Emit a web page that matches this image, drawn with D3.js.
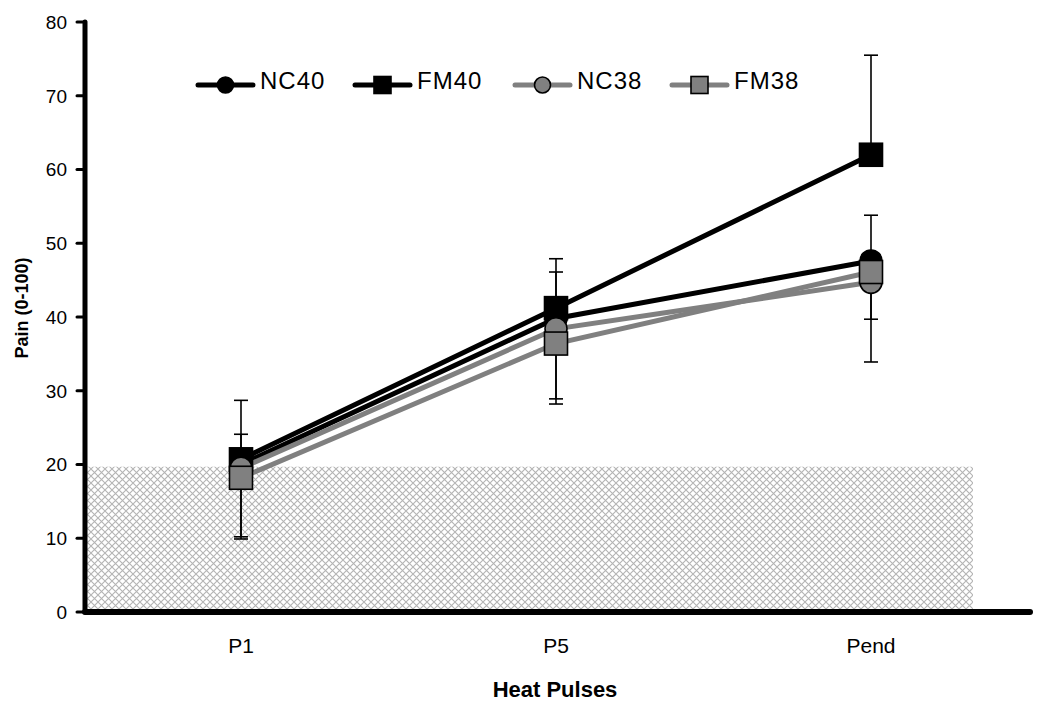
<!DOCTYPE html>
<html>
<head>
<meta charset="utf-8">
<script src="https://cdn.jsdelivr.net/npm/d3@7"></script>
<style>
  body { margin: 0; background: #fff; }
  svg { display: block; }
</style>
</head>
<body>
<div id="chart"></div>
<script>
// chart data
const pulses = ['P1', 'P5', 'Pend'];
const yTicks = [0, 10, 20, 30, 40, 50, 60, 70, 80];
const seriesNames = ['NC40', 'FM40', 'NC38', 'FM38'];
const nc40 = [20.0, 39.8, 47.6];
const fm40 = [20.7, 41.2, 62.0];
const nc38 = [19.5, 38.4, 44.7];
const fm38 = [18.2, 36.4, 46.1];
// error bars: 40 series drawn upward, 38 series drawn downward
const nc40Err = [4.1, 6.3, 6.2];
const fm40Err = [8.0, 6.7, 13.5];
const nc38Err = [9.6, 10.2, 10.8];
const fm38Err = [8.0, 7.5, 6.4];
const threshold = 19.7; // hatched band

const width = 1050, height = 712;
const x0 = 85, x1 = 1030, yTop = 22, yBottom = 612;

const svg = d3.select('#chart').append('svg')
  .attr('width', width)
  .attr('height', height);

const x = d3.scalePoint().domain(pulses).range([241, 871]);
const y = d3.scaleLinear().domain([0, 80]).range([yBottom, yTop]);

const series = [
  { name: 'NC40', values: nc40, err: nc40Err, dir: 1, color: '#000', fill: '#000', shape: 'circle' },
  { name: 'FM40', values: fm40, err: fm40Err, dir: 1, color: '#000', fill: '#000', shape: 'square' },
  { name: 'NC38', values: nc38, err: nc38Err, dir: -1, color: '#808080', fill: '#808080', shape: 'circle' },
  { name: 'FM38', values: fm38, err: fm38Err, dir: -1, color: '#808080', fill: '#808080', shape: 'square' }
];

// hatch pattern
const defs = svg.append('defs');
const pat = defs.append('pattern')
  .attr('id', 'hatch')
  .attr('patternUnits', 'userSpaceOnUse')
  .attr('width', 7).attr('height', 7);
pat.append('rect').attr('width', 7).attr('height', 7).attr('fill', '#fff');
pat.append('path')
  .attr('d', 'M0,0L7,7M7,0L0,7')
  .attr('stroke', '#b4b4b4')
  .attr('stroke-width', 1.1);

svg.append('rect')
  .attr('x', x0 + 2)
  .attr('y', y(threshold))
  .attr('width', 973 - x0 - 2)
  .attr('height', y(0) - y(threshold))
  .attr('fill', 'url(#hatch)');

// y axis ticks + labels
const yAxis = svg.append('g');
yAxis.selectAll('line.tick')
  .data(yTicks)
  .enter().append('line')
  .attr('x1', 77).attr('x2', x0)
  .attr('y1', d => y(d)).attr('y2', d => y(d))
  .attr('stroke', '#000')
  .attr('stroke-width', 3)
  .attr('stroke-linecap', 'round');
yAxis.selectAll('text')
  .data(yTicks)
  .enter().append('text')
  .attr('x', 67)
  .attr('y', d => y(d))
  .attr('dy', '0.36em')
  .attr('text-anchor', 'end')
  .style('font-family', "'Liberation Sans', Arial, sans-serif")
  .style('font-size', '19px')
  .text(d => d);

// axis lines
svg.append('line')
  .attr('x1', x0).attr('x2', x0)
  .attr('y1', yTop).attr('y2', yBottom)
  .attr('stroke', '#000').attr('stroke-width', 5)
  .attr('stroke-linecap', 'round');
svg.append('line')
  .attr('x1', x0).attr('x2', x1)
  .attr('y1', yBottom).attr('y2', yBottom)
  .attr('stroke', '#000').attr('stroke-width', 6)
  .attr('stroke-linecap', 'round');

// x labels
svg.append('g').selectAll('text')
  .data(pulses)
  .enter().append('text')
  .attr('x', d => x(d))
  .attr('y', 653)
  .attr('text-anchor', 'middle')
  .style('font-family', "'Liberation Sans', Arial, sans-serif")
  .style('font-size', '21px')
  .text(d => d);

// axis titles
svg.append('text')
  .attr('x', 555).attr('y', 697)
  .attr('text-anchor', 'middle')
  .style('font-family', "'Liberation Sans', Arial, sans-serif")
  .style('font-size', '22px')
  .style('font-weight', 'bold')
  .text('Heat Pulses');

svg.append('text')
  .attr('transform', 'translate(28,308) rotate(-90)')
  .attr('text-anchor', 'middle')
  .style('font-family', "'Liberation Sans', Arial, sans-serif")
  .style('font-size', '18px')
  .style('font-weight', 'bold')
  .text('Pain (0-100)');

// lines
const line = d3.line()
  .x((d, i) => x(pulses[i]))
  .y(d => y(d));

series.forEach(s => {
  svg.append('path')
    .datum(s.values)
    .attr('d', line)
    .attr('fill', 'none')
    .attr('stroke', s.color)
    .attr('stroke-width', 5);
});

// error bars
series.forEach(s => {
  const g = svg.append('g');
  s.values.forEach((v, i) => {
    const cx = x(pulses[i]);
    const end = y(v + s.dir * s.err[i]);
    g.append('line')
      .attr('x1', cx).attr('x2', cx)
      .attr('y1', y(v)).attr('y2', end)
      .attr('stroke', '#000').attr('stroke-width', 1.6);
    g.append('line')
      .attr('x1', cx - 7).attr('x2', cx + 7)
      .attr('y1', end).attr('y2', end)
      .attr('stroke', '#000').attr('stroke-width', 1.6);
  });
});

// markers
function drawMarker(g, s, cx, cy, size) {
  if (s.shape === 'circle') {
    g.append('circle')
      .attr('cx', cx).attr('cy', cy).attr('r', size / 2)
      .attr('fill', s.fill)
      .attr('stroke', '#000').attr('stroke-width', 1.6);
  } else {
    g.append('rect')
      .attr('x', cx - size / 2).attr('y', cy - size / 2)
      .attr('width', size).attr('height', size)
      .attr('fill', s.fill)
      .attr('stroke', '#000').attr('stroke-width', 1.6);
  }
}

series.forEach(s => {
  const g = svg.append('g');
  s.values.forEach((v, i) => {
    drawMarker(g, s, x(pulses[i]), y(v), s.shape === 'circle' ? 22 : 23);
  });
});

// legend
const legendX = [198, 355, 515, 672];
const legendY = 85;
series.forEach((s, i) => {
  const g = svg.append('g').attr('transform', `translate(${legendX[i]},${legendY})`);
  g.append('line')
    .attr('x1', 0).attr('x2', 55)
    .attr('y1', 0).attr('y2', 0)
    .attr('stroke', s.color).attr('stroke-width', 5)
    .attr('stroke-linecap', 'round');
  drawMarker(g, s, 27.5, 0, s.shape === 'circle' ? 16 : 17);
  g.append('text')
    .attr('x', 62)
    .attr('y', 4)
    .style('font-family', "'Liberation Sans', Arial, sans-serif")
    .style('font-size', '24px')
    .style('letter-spacing', '1px')
    .text(seriesNames[i]);
});
</script>
</body>
</html>
